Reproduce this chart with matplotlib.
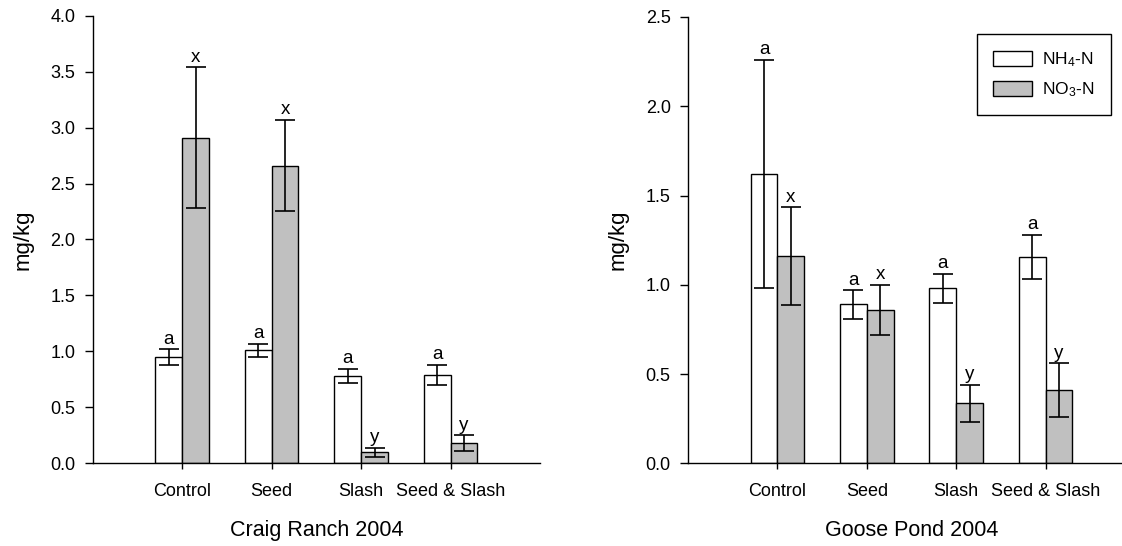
import matplotlib
matplotlib.use("Agg")
import matplotlib.pyplot as plt
import numpy as np

plt.rcParams['font.family'] = ['Liberation Sans', 'DejaVu Sans']
plt.rcParams['mathtext.fontset'] = 'custom'
plt.rcParams['mathtext.rm'] = 'Liberation Sans'
plt.rcParams['mathtext.it'] = 'Liberation Sans'

treatments = ["Control", "Seed", "Slash", "Seed & Slash"]

# Craig Ranch 2004
cr_nh4 = [0.95, 1.01, 0.78, 0.79]
cr_nh4_se = [0.07, 0.06, 0.065, 0.09]
cr_no3 = [2.91, 2.66, 0.10, 0.18]
cr_no3_se = [0.63, 0.41, 0.04, 0.07]
cr_nh4_lbl = ["a", "a", "a", "a"]
cr_no3_lbl = ["x", "x", "y", "y"]

# Goose Pond 2004
gp_nh4 = [1.62, 0.89, 0.98, 1.155]
gp_nh4_se = [0.64, 0.08, 0.08, 0.125]
gp_no3 = [1.16, 0.86, 0.335, 0.41]
gp_no3_se = [0.275, 0.14, 0.105, 0.15]
gp_nh4_lbl = ["a", "a", "a", "a"]
gp_no3_lbl = ["x", "x", "y", "y"]

W = 0.30
FS = 13.5

fig = plt.figure(figsize=(11.22, 5.46), dpi=100)
ax1 = fig.add_axes([0.0826, 0.1515, 0.3987, 0.8198])
ax2 = fig.add_axes([0.6132, 0.1515, 0.3984, 0.8174])


def panel(ax, nh4, nh4_se, no3, no3_se, lbl1, lbl2, ymax, title):
    x = np.arange(1, len(treatments) + 1)
    ek = dict(ecolor="black", elinewidth=1.2, capsize=7.5, capthick=1.2)
    b1 = ax.bar(x - W / 2, nh4, W, yerr=nh4_se, color="white", edgecolor="black",
                linewidth=1.0, error_kw=ek, label=r"NH$_4$-N", zorder=2)
    b2 = ax.bar(x + W / 2, no3, W, yerr=no3_se, color="#c0c0c0", edgecolor="black",
                linewidth=1.0, error_kw=ek, label=r"NO$_3$-N", zorder=2)
    for xi, v, e, t in zip(x - W / 2, nh4, nh4_se, lbl1):
        ax.annotate(t, (xi, v + e), xytext=(0, 4), textcoords="offset points",
                    ha="center", va="baseline", fontsize=FS)
    for xi, v, e, t in zip(x + W / 2, no3, no3_se, lbl2):
        ax.annotate(t, (xi, v + e), xytext=(0, 4), textcoords="offset points",
                    ha="center", va="baseline", fontsize=FS)
    ax.set_xlim(0, 5)
    ax.set_ylim(0, ymax)
    ax.set_yticks(np.arange(0, ymax + 0.01, 0.5))
    ax.yaxis.set_major_formatter(matplotlib.ticker.FormatStrFormatter("%.1f"))
    ax.set_xticks(x)
    ax.set_xticklabels(treatments)
    ax.spines["top"].set_visible(False)
    ax.spines["right"].set_visible(False)
    for s in ("left", "bottom"):
        ax.spines[s].set_linewidth(1.0)
    ax.tick_params(axis="y", direction="out", length=5.5, width=1.0, pad=7, labelsize=13)
    ax.tick_params(axis="x", direction="out", length=4.5, width=1.0, pad=10, labelsize=13)
    ax.set_ylabel("mg/kg", fontsize=16, labelpad=12)
    ax.set_xlabel(title, fontsize=15.5, labelpad=14)
    return b1, b2


panel(ax1, cr_nh4, cr_nh4_se, cr_no3, cr_no3_se, cr_nh4_lbl, cr_no3_lbl, 4.0, "Craig Ranch 2004")
panel(ax2, gp_nh4, gp_nh4_se, gp_no3, gp_no3_se, gp_nh4_lbl, gp_no3_lbl, 2.5, "Goose Pond 2004")

leg = ax2.legend(loc="upper left", bbox_to_anchor=(0.6465, 0.9626), fontsize=12.5,
                 frameon=True, fancybox=False, framealpha=1, edgecolor="black",
                 handlelength=2.2, handleheight=0.95, handletextpad=0.6,
                 labelspacing=0.65, borderpad=0.95, borderaxespad=0)
leg.get_frame().set_linewidth(1.0)

fig.savefig("out.png", dpi=100)
